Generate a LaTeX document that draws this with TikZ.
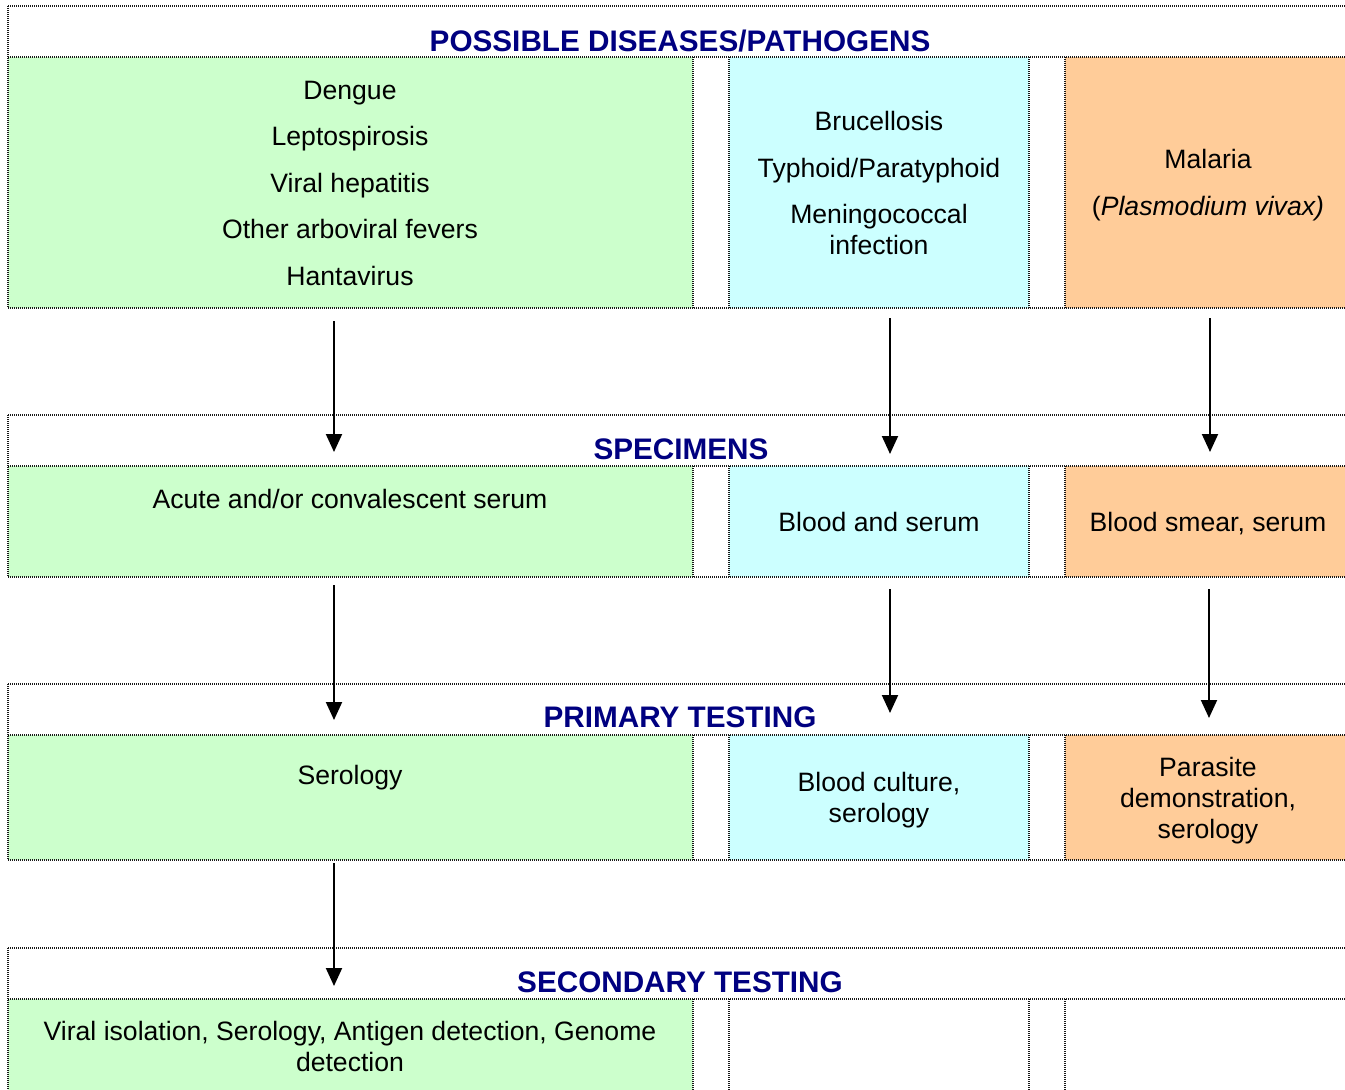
\documentclass[tikz,border=0pt]{standalone}
\usepackage{fontspec}
\setmainfont{Liberation Sans}
\usetikzlibrary{arrows.meta}

\definecolor{cellgreen}{RGB}{204,255,204}
\definecolor{cellcyan}{RGB}{204,255,255}
\definecolor{cellorange}{RGB}{255,204,153}
\definecolor{headnavy}{RGB}{0,0,128}

\tikzset{
  gridline/.style={draw=black!90, line width=1.1pt, dash pattern=on 1pt off 1pt},
  cell/.style={rectangle, draw=none, inner sep=0pt, outer sep=0pt, anchor=north west},
  headtext/.style={font=\fontsize{29.7}{34}\selectfont\bfseries, text=headnavy, anchor=base, inner sep=0pt},
  bodytext/.style={font=\fontsize{26.6}{30.5}\selectfont, align=center, anchor=base, inner sep=0pt},
  flow/.style={-{Triangle[width=16pt,length=18pt]}, line width=2pt, black}
}

\begin{document}
\begin{tikzpicture}[x=1pt,y=-1pt]
\useasboundingbox (0,0) rectangle (1345,1090);

% ---- coloured cells ----
% diseases
\node[cell, fill=cellgreen,  minimum width=685pt, minimum height=251pt] (dis-g) at (8,57) {};
\node[cell, fill=cellcyan,   minimum width=300pt, minimum height=251pt] (dis-c) at (729,57) {};
\node[cell, fill=cellorange, minimum width=280pt, minimum height=251pt] (dis-o) at (1065,57) {};
% specimens
\node[cell, fill=cellgreen,  minimum width=685pt, minimum height=111pt] (spc-g) at (8,466) {};
\node[cell, fill=cellcyan,   minimum width=300pt, minimum height=111pt] (spc-c) at (729,466) {};
\node[cell, fill=cellorange, minimum width=280pt, minimum height=111pt] (spc-o) at (1065,466) {};
% primary testing
\node[cell, fill=cellgreen,  minimum width=685pt, minimum height=125pt] (pri-g) at (8,735) {};
\node[cell, fill=cellcyan,   minimum width=300pt, minimum height=125pt] (pri-c) at (729,735) {};
\node[cell, fill=cellorange, minimum width=280pt, minimum height=125pt] (pri-o) at (1065,735) {};
% secondary testing
\node[cell, fill=cellgreen,  minimum width=685pt, minimum height=91pt] (sec-g) at (8,999) {};

% ---- dotted table rules ----
\foreach \t/\r/\b in {6/57/308, 415/466/577, 684/735/860} {
  \draw[gridline] (8,\t) -- (1345,\t);
  \draw[gridline] (8,\r) -- (1345,\r);
  \draw[gridline] (8,\b) -- (1345,\b);
  \draw[gridline] (8,\t) -- (8,\b);
  \foreach \x in {693,729,1029,1065} \draw[gridline] (\x,\r) -- (\x,\b);
}
\draw[gridline] (8,948) -- (1345,948);
\draw[gridline] (8,999) -- (1345,999);
\draw[gridline] (8,948) -- (8,1090);
\foreach \x in {693,729,1029,1065} \draw[gridline] (\x,999) -- (\x,1090);

% ---- headings ----
\node[headtext] (h-dis) at (680,51) {POSSIBLE DISEASES/PATHOGENS};
\node[headtext] (h-spc) at (681,459) {SPECIMENS};
\node[headtext] (h-pri) at (680,727) {PRIMARY TESTING};
\node[headtext] (h-sec) at (680,992) {SECONDARY TESTING};

% ---- cell texts (anchored at the baseline of the last line) ----
\node[bodytext] (t-dis-g) at (350,285) {Dengue\\[16pt]Leptospirosis\\[16pt]Viral hepatitis\\[16pt]Other arboviral fevers\\[16pt]Hantavirus};
\node[bodytext] (t-dis-c) at (879,254) {Brucellosis\\[16pt]Typhoid/Paratyphoid\\[16pt]Meningococcal\\infection};
\node[bodytext] (t-dis-o) at (1208,215) {Malaria\\[16pt](\textit{Plasmodium vivax)}};

\node[bodytext] (t-spc-g) at (350,508) {Acute and/or convalescent serum};
\node[bodytext] (t-spc-c) at (879,531) {Blood and serum};
\node[bodytext] (t-spc-o) at (1208,531) {Blood smear, serum};

\node[bodytext] (t-pri-g) at (350,784) {Serology};
\node[bodytext] (t-pri-c) at (879,822) {Blood culture,\\serology};
\node[bodytext] (t-pri-o) at (1208,838) {Parasite\\[0.5pt]demonstration,\\[0.5pt]serology};

\node[bodytext] (t-sec-g) at (350,1071) {Viral isolation, Serology, Antigen detection, Genome\\[0.5pt]detection};

% ---- flow arrows ----
\draw[flow] ([xshift=-16.5pt,yshift=-13pt]dis-g.south) -- ([xshift=-16.5pt,yshift=14pt]spc-g.north);
\draw[flow] ([xshift=11pt,yshift=-10pt]dis-c.south)    -- ([xshift=11pt,yshift=12pt]spc-c.north);
\draw[flow] ([xshift=5pt,yshift=-10pt]dis-o.south)     -- ([xshift=5pt,yshift=14pt]spc-o.north);

\draw[flow] ([xshift=-16.5pt,yshift=-8pt]spc-g.south)  -- ([xshift=-16.5pt,yshift=15pt]pri-g.north);
\draw[flow] ([xshift=11pt,yshift=-12pt]spc-c.south)    -- ([xshift=11pt,yshift=22pt]pri-c.north);
\draw[flow] ([xshift=4pt,yshift=-12pt]spc-o.south)     -- ([xshift=4pt,yshift=17pt]pri-o.north);

\draw[flow] ([xshift=-16.5pt,yshift=-3pt]pri-g.south)  -- ([xshift=-16.5pt,yshift=13pt]sec-g.north);
\end{tikzpicture}
\end{document}
